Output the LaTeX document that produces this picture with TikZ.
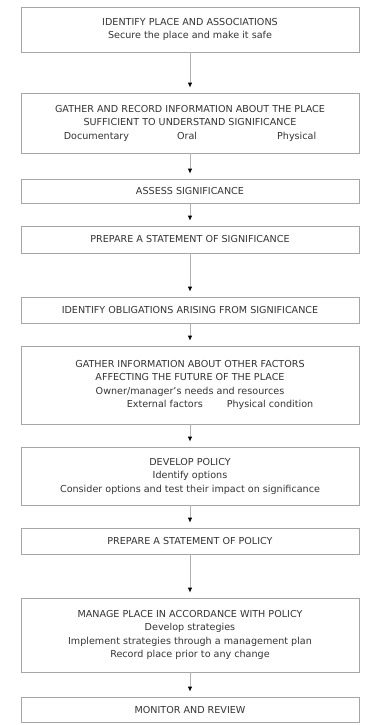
\documentclass[tikz,border=0pt]{standalone}
\usepackage{fontspec}
\setmainfont{DejaVu Sans}
\usetikzlibrary{arrows.meta}
\tikzset{
  stage/.style={draw=gray!70, line width=.8pt, minimum width=338pt, align=center,
    font=\fontsize{9.6}{13.5}\selectfont, text=black!80, inner sep=2pt},
  flow/.style={-{Latex[length=5pt,width=4.5pt,black]}, draw=gray!60, line width=.8pt, shorten >=5pt}
}
\begin{document}
\begin{tikzpicture}[x=1pt, y=-1pt]
\useasboundingbox (0,0) rectangle (365,725);
\node[stage, minimum height=45pt] (place) at (190,29.5)
  {IDENTIFY PLACE AND ASSOCIATIONS\\ Secure the place and make it safe};
\node[stage, minimum height=60pt] (gather) at (190,123)
  {GATHER AND RECORD INFORMATION ABOUT THE PLACE\\ SUFFICIENT TO UNDERSTAND SIGNIFICANCE\\
   Documentary\hspace{48pt}Oral\hspace{80pt}Physical};
\node[stage, minimum height=24pt] (assess) at (190,191) {ASSESS SIGNIFICANCE};
\node[stage, minimum height=27pt] (sos) at (190,239.5) {PREPARE A STATEMENT OF SIGNIFICANCE};
\node[stage, minimum height=26pt] (oblig) at (190,310) {IDENTIFY OBLIGATIONS ARISING FROM SIGNIFICANCE};
\node[stage, minimum height=78pt] (factors) at (190,385)
  {GATHER INFORMATION ABOUT OTHER FACTORS\\ AFFECTING THE FUTURE OF THE PLACE\\
   Owner/manager's needs and resources\\
   \hspace*{60pt}External factors\hspace{24pt}Physical condition};
\node[stage, minimum height=58pt] (policy) at (190,476)
  {DEVELOP POLICY\\ Identify options\\ Consider options and test their impact on significance};
\node[stage, minimum height=26pt] (sop) at (190,541) {PREPARE A STATEMENT OF POLICY};
\node[stage, minimum height=74pt] (manage) at (190,635)
  {MANAGE PLACE IN ACCORDANCE WITH POLICY\\ Develop strategies\\
   Implement strategies through a management plan\\ Record place prior to any change};
\node[stage, minimum height=25pt] (monitor) at (190,709.5) {MONITOR AND REVIEW};

\draw[flow] (place) -- (gather);
\draw[flow] (gather) -- (assess);
\draw[flow] (assess) -- (sos);
\draw[flow] (sos) -- (oblig);
\draw[flow] (oblig) -- (factors);
\draw[flow] (factors) -- (policy);
\draw[flow] (policy) -- (sop);
\draw[flow] (sop) -- (manage);
\draw[flow] (manage) -- (monitor);
\end{tikzpicture}
\end{document}
